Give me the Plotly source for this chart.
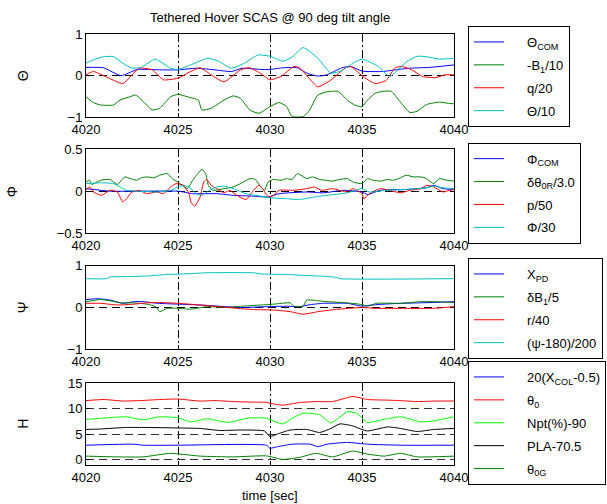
import plotly.graph_objects as go

# ---------------- Panel 1 : Theta ----------------
th_com_t = [4020, 4020.95, 4021.9, 4022.8, 4024, 4025, 4026, 4027, 4027.9, 4028.5, 4029.5, 4030, 4030.7, 4031.5,
            4032, 4032.6, 4033.1, 4033.9, 4034.4, 4035, 4036.1, 4036.8, 4037.6, 4038.7, 4040]
th_com_v = [0.20, 0.19, 0.00, 0.15, 0.14, 0.14, 0.18, 0.14, 0.10, 0.18, 0.15, 0.15, 0.19, 0.19,
            0.06, -0.01, 0.02, 0.19, 0.22, 0.11, 0.10, 0.14, 0.18, 0.20, 0.26]
b1_t = [4020, 4020.4, 4020.8, 4021.5, 4021.85, 4022.4, 4022.7, 4023.3, 4023.6, 4024.0, 4024.6, 4025, 4025.5,
        4026.1, 4026.3, 4026.8, 4027.5, 4028.0, 4028.4, 4028.9, 4029.4, 4030, 4030.5, 4030.9, 4031.2, 4031.8,
        4032.1, 4032.6, 4033.1, 4033.7, 4034.2, 4034.6, 4035, 4035.3, 4035.7, 4036.1, 4036.6, 4037.0, 4037.6,
        4038, 4038.5, 4039.2, 4039.7, 4040]
b1_v = [-0.51, -0.65, -0.71, -0.71, -0.59, -0.51, -0.47, -0.71, -0.83, -0.79, -0.51, -0.45, -0.51,
        -0.59, -0.83, -0.79, -0.59, -0.49, -0.55, -0.83, -0.91, -0.75, -0.65, -0.75, -0.99, -0.99,
        -0.87, -0.47, -0.39, -0.38, -0.59, -0.71, -0.75, -0.59, -0.43, -0.38, -0.38, -0.59, -0.89,
        -0.86, -0.70, -0.64, -0.67, -0.68]
q_t = [4020, 4020.4, 4021.2, 4022.0, 4022.9, 4023.6, 4024.2, 4025, 4025.6, 4026.2, 4026.8, 4027.5, 4028.4,
       4028.9, 4029.6, 4030, 4030.6, 4031.3, 4031.6, 4032.1, 4032.6, 4033.3, 4034.1, 4034.4, 4035, 4035.7,
       4036.3, 4036.8, 4037.2, 4037.7, 4038.3, 4039, 4039.5, 4040]
q_v = [0.02, 0.10, -0.05, -0.19, 0.18, 0.14, -0.10, -0.06, 0.08, 0.19, 0.02, -0.15, 0.14,
       0.19, 0.02, -0.10, -0.02, 0.22, 0.19, -0.05, -0.27, -0.11, 0.19, 0.22, 0.00, -0.19,
       -0.12, 0.19, 0.22, 0.14, -0.02, -0.05, 0.02, 0.02]
th_t = [4020, 4020.5, 4021, 4021.5, 4022, 4022.5, 4023, 4023.75, 4024.6, 4025, 4025.8, 4026.6, 4027.2, 4027.9,
        4028.6, 4029.35, 4030, 4030.7, 4031.2, 4031.8, 4032.6, 4033.3, 4033.9, 4034.5, 4035, 4035.9, 4036.5,
        4037.4, 4038, 4038.6, 4039.2, 4040]
th_v = [0.30, 0.40, 0.46, 0.46, 0.30, 0.18, 0.20, 0.40, 0.18, 0.15, 0.28, 0.42, 0.35, 0.18,
        0.30, 0.50, 0.47, 0.35, 0.45, 0.68, 0.42, 0.06, 0.12, 0.30, 0.40, 0.22, -0.02,
        0.33, 0.47, 0.45, 0.40, 0.42]

# ---------------- Panel 2 : Phi ----------------
ph_com_t = [4020, 4021.3, 4023.1, 4025, 4025.8, 4027.1, 4028, 4029.1, 4029.9, 4030.5, 4032, 4032.9, 4034, 4035,
            4035.3, 4036, 4037.4, 4038.5, 4038.9, 4039.4, 4040]
ph_com_v = [0.03, 0.00, 0.00, 0.00, -0.03, -0.03, -0.05, -0.06, -0.07, -0.03, -0.01, -0.02, 0.01, -0.01,
            -0.04, 0.01, 0.02, 0.04, 0.07, 0.03, 0.02]
d0r_t = [4020, 4020.2, 4020.3, 4020.8, 4021.3, 4021.7, 4022.1, 4022.4, 4022.75, 4023.0, 4023.3, 4023.7, 4024.0,
         4024.4, 4024.7, 4025.1, 4025.5, 4025.8, 4026.0, 4026.3, 4026.5, 4026.65, 4026.9, 4027.5, 4028.0,
         4028.4, 4028.9, 4029.2, 4029.5, 4029.7, 4029.9, 4030.2, 4030.6, 4030.9, 4031.2, 4031.5, 4032.0,
         4032.3, 4032.7, 4033.0, 4033.4, 4033.8, 4034.2, 4034.5, 4035.0, 4035.3, 4035.6, 4036.0, 4036.4,
         4036.7, 4037.0, 4037.4, 4037.8, 4038.2, 4038.5, 4038.9, 4039.2, 4039.6, 4040]
d0r_v = [0.11, 0.13, 0.08, 0.13, 0.14, 0.08, 0.17, 0.15, 0.13, 0.16, 0.17, 0.16, 0.19,
         0.21, 0.15, 0.09, 0.03, 0.13, 0.19, 0.26, 0.21, 0.07, 0.01, 0.03, 0.05,
         0.09, 0.15, 0.14, 0.05, 0.01, 0.11, 0.14, 0.13, 0.15, 0.14, 0.21, 0.15,
         0.17, 0.14, 0.13, 0.12, 0.14, 0.15, 0.11, 0.09, 0.15, 0.13, 0.12, 0.14,
         0.13, 0.15, 0.19, 0.17, 0.17, 0.15, 0.09, 0.15, 0.13, 0.12]
p_t = [4020, 4020.2, 4020.4, 4020.85, 4021.3, 4021.7, 4022.0, 4022.2, 4022.5, 4022.9, 4023.3, 4023.85, 4024.2,
       4024.6, 4024.9, 4025.3, 4025.6, 4025.7, 4025.9, 4026.2, 4026.4, 4026.55, 4026.8, 4027.1, 4027.5, 4027.8,
       4028.2, 4028.7, 4029.1, 4029.4, 4029.6, 4029.9, 4030.2, 4030.5, 4031.3, 4032.0, 4032.4, 4032.8, 4033.4,
       4034.2, 4034.5, 4035.0, 4035.1, 4035.4, 4036, 4036.5, 4037.1, 4037.6, 4038.2, 4038.5, 4038.9, 4039.4,
       4039.6, 4040]
p_v = [0.02, 0.05, -0.01, -0.05, 0.01, -0.01, -0.13, -0.09, -0.01, 0.01, -0.03, -0.01, -0.03,
       0.05, 0.09, 0.07, -0.03, -0.13, -0.18, -0.07, 0.11, 0.14, 0.07, 0.03, -0.02, 0.01,
       -0.05, -0.10, 0.01, 0.07, 0.03, -0.07, -0.05, 0.01, 0.01, 0.03, 0.05, 0.01, 0.03,
       -0.01, 0.03, -0.03, -0.09, -0.03, 0.03, 0.01, -0.02, 0.01, 0.03, 0.07, 0.05, -0.01,
       0.00, 0.02]
ph_t = [4020, 4020.8, 4021.5, 4021.85, 4022.2, 4022.75, 4024, 4024.6, 4025, 4025.3, 4025.7, 4026.0, 4026.3,
        4026.7, 4027.1, 4027.5, 4028, 4028.7, 4029.5, 4030, 4030.9, 4031.6, 4032.4, 4033.1, 4034.2, 4035.0,
        4035.4, 4036.3, 4037.4, 4038.5, 4038.9, 4039.4, 4040]
ph_v = [0.09, 0.10, 0.09, 0.05, 0.01, 0.00, -0.01, 0.01, 0.05, 0.07, 0.03, -0.03, -0.05,
        0.01, 0.05, 0.06, 0.03, -0.03, -0.06, -0.08, -0.09, -0.10, -0.07, -0.05, -0.02, 0.03,
        -0.01, 0.01, 0.02, 0.04, 0.06, 0.04, 0.03]

# ---------------- Panel 3 : Psi ----------------
xpd_t = [4020, 4020.6, 4021.3, 4022, 4022.6, 4023.1, 4023.9, 4025, 4026.2, 4027.3, 4028.4, 4029.8, 4030.9,
         4031.6, 4032.2, 4032.9, 4034.2, 4035, 4035.3, 4036.2, 4037.1, 4038, 4038.9, 4040]
xpd_v = [0.19, 0.21, 0.18, 0.10, 0.14, 0.14, 0.10, 0.08, 0.06, 0.03, 0.00, 0.02, 0.03,
         0.02, 0.07, 0.10, 0.10, 0.03, 0.05, 0.08, 0.10, 0.11, 0.12, 0.14]
db1_t = [4020, 4020.8, 4021.3, 4021.9, 4022.6, 4023.3, 4023.8, 4024.0, 4024.4, 4025, 4025.7, 4026.6, 4027.7,
         4028.4, 4029.5, 4030.2, 4031.1, 4031.3, 4031.8, 4032.0, 4032.6, 4033.1, 4034.2, 4035, 4035.3,
         4035.8, 4037.1, 4038.2, 4038.9, 4040]
db1_v = [0.14, 0.19, 0.16, 0.11, 0.11, 0.08, 0.02, -0.10, -0.02, -0.02, -0.04, 0.02, 0.00,
         0.03, 0.06, 0.08, 0.11, 0.03, 0.03, 0.18, 0.16, 0.14, 0.11, 0.07, 0.03,
         0.10, 0.10, 0.14, 0.14, 0.12]
r_t = [4020, 4020.8, 4021.7, 4022.6, 4023.3, 4024, 4025, 4026.2, 4027.7, 4029.1, 4030.2, 4031.1, 4031.8,
       4032.6, 4033.5, 4035, 4035.7, 4037.1, 4038.9, 4040]
r_v = [0.10, 0.10, 0.06, 0.08, 0.11, 0.12, 0.10, 0.06, 0.00, -0.05, -0.06, -0.10, -0.16,
       -0.10, -0.05, 0.00, -0.02, -0.02, -0.02, 0.02]
psi_t = [4020, 4021.1, 4021.3, 4022.5, 4023.5, 4024.4, 4025.7, 4026.5, 4029.1, 4029.6, 4031.0, 4031.7,
         4032.8, 4033.6, 4033.8, 4040]
psi_v = [0.69, 0.69, 0.73, 0.74, 0.76, 0.79, 0.81, 0.83, 0.83, 0.80, 0.79, 0.77,
         0.75, 0.72, 0.69, 0.69]

# ---------------- Panel 4 : H ----------------
xcol_t = [4020, 4022.6, 4023.1, 4025, 4029.8, 4030, 4030.4, 4031.2, 4032.2, 4032.6, 4033.1, 4034.2, 4035.3,
          4037.1, 4040]
xcol_v = [2.8, 3.0, 2.8, 2.8, 2.8, 2.2, 2.5, 3.0, 3.0, 2.5, 3.0, 3.35, 3.0, 2.8, 2.8]
th0_t = [4020, 4021, 4022, 4023, 4024, 4025, 4026.2, 4027, 4028, 4029, 4029.8, 4030, 4030.7, 4031.6, 4032.5,
         4033.4, 4034.5, 4035.3, 4036.2, 4037, 4038, 4039, 4040]
th0_v = [11.6, 11.8, 11.5, 11.6, 11.8, 11.9, 11.5, 11.6, 11.4, 11.3, 11.25, 11.05, 10.7, 11.2, 11.4,
         11.4, 12.4, 11.8, 11.7, 11.6, 11.4, 11.5, 11.5]
npt_t = [4020, 4020.8, 4022.2, 4023.1, 4024, 4025, 4025.7, 4026.6, 4027.7, 4028.9, 4029.8, 4030.3, 4030.7,
         4031.2, 4031.8, 4032.7, 4033.3, 4033.6, 4034.2, 4034.7, 4035.3, 4036.2, 4037.1, 4038.2, 4038.9, 4040]
npt_v = [7.9, 8.1, 8.4, 7.8, 8.4, 8.2, 7.4, 8.0, 7.3, 8.2, 8.1, 7.4, 7.0,
         8.1, 9.1, 8.8, 7.2, 7.8, 9.4, 9.1, 7.3, 7.9, 8.4, 7.4, 7.6, 8.4]
pla_t = [4020, 4020.8, 4022.2, 4023.1, 4025, 4026.2, 4027.3, 4028.4, 4029.7, 4030, 4030.4, 4031.1, 4032.0,
         4032.7, 4033.3, 4033.8, 4034.5, 4035, 4035.3, 4036.4, 4037.1, 4038, 4038.9, 4040]
pla_v = [5.9, 6.0, 6.3, 6.3, 6.2, 6.1, 5.7, 5.8, 5.6, 4.5, 5.0, 5.8, 5.9,
         5.3, 6.1, 7.0, 6.6, 5.9, 5.6, 6.4, 6.1, 5.5, 5.9, 6.1]
th0g_t = [4020, 4021.7, 4023.1, 4024.6, 4026.2, 4028, 4029.8, 4030.7, 4031.6, 4032.5, 4033.4, 4034.5, 4035.3,
          4036.2, 4037.1, 4038, 4040]
th0g_v = [0.65, 0.5, 0.5, 1.2, 0.65, 0.5, 0.7, 0.0, 0.4, 1.2, 0.5, 1.65, 1.05, 0.65, 1.2, 0.5, 0.65]

x_ticks = [4020, 4025, 4030, 4035, 4040]
y_ticks = [[-1, 0, 1], [-0.5, 0, 0.5], [-1, 0, 1], [0, 5, 10, 15]]
y_ranges = [[-1, 1], [-0.5, 0.5], [-1, 1], [-1.1, 15]]
y_titles = ["Θ", "Φ", "Ψ", "H"]

BLUE, GREEN, RED, CYAN, LIME, BLACK = "#0000FF", "#008000", "#FF0000", "#00BFBF", "#00FF00", "#000000"

panels = [
    [(th_com_t, th_com_v, "Θ<sub>COM</sub>", BLUE), (b1_t, b1_v, "-B<sub>1</sub>/10", GREEN),
     (q_t, q_v, "q/20", RED), (th_t, th_v, "Θ/10", CYAN)],
    [(ph_com_t, ph_com_v, "Φ<sub>COM</sub>", BLUE), (d0r_t, d0r_v, "δθ<sub>0R</sub>/3.0", GREEN),
     (p_t, p_v, "p/50", RED), (ph_t, ph_v, "Φ/30", CYAN)],
    [(xpd_t, xpd_v, "X<sub>PD</sub>", BLUE), (db1_t, db1_v, "δB<sub>1</sub>/5", GREEN),
     (r_t, r_v, "r/40", RED), (psi_t, psi_v, "(ψ-180)/200", CYAN)],
    [(xcol_t, xcol_v, "20(X<sub>COL</sub>-0.5)", BLUE), (th0_t, th0_v, "θ<sub>0</sub>", RED),
     (npt_t, npt_v, "Npt(%)-90", LIME), (pla_t, pla_v, "PLA-70.5", BLACK),
     (th0g_t, th0g_v, "θ<sub>0G</sub>", GREEN)],
]

W, H = 607, 504
x0, x1 = 86, 454
ybounds = [(34.3, 117), (149.3, 233), (265.7, 349.3), (383.3, 465)]
legend_tops = [26, 142.7, 258, 361]
ytitle_x = [22.7, 12, 22.7, 22.7]
FONT = "Liberation Sans, Arial, sans-serif"
PAD = "\u00a0" * 5

fig = go.Figure()
legend_names = ["legend", "legend2", "legend3", "legend4"]
for i, series in enumerate(panels):
    xa = "x" if i == 0 else f"x{i+1}"
    ya = "y" if i == 0 else f"y{i+1}"
    for j, (t, v, name, col) in enumerate(series):
        fig.add_trace(go.Scatter(x=t, y=v, mode="lines", name=PAD + name,
                                 line=dict(color=col, width=1, shape="spline", smoothing=0.5),
                                 xaxis=xa, yaxis=ya, legend=legend_names[i],
                                 legendgroup=f"g{i}_{j}"))

layout = dict(width=W, height=H, margin=dict(l=0, r=0, t=0, b=0, autoexpand=False),
              paper_bgcolor="white", plot_bgcolor="white", showlegend=True,
              font=dict(family=FONT, size=13, color="black"))
for i in range(4):
    sx = "xaxis" if i == 0 else f"xaxis{i+1}"
    sy = "yaxis" if i == 0 else f"yaxis{i+1}"
    ya = "y" if i == 0 else f"y{i+1}"
    xa = "x" if i == 0 else f"x{i+1}"
    top, bot = ybounds[i]
    layout[sx] = dict(domain=[x0 / W, x1 / W], range=[4020, 4040], anchor=ya, automargin=False,
                      tickvals=x_ticks, ticks="inside", ticklen=4, tickcolor="black",
                      showline=True, mirror=True, linecolor="black", linewidth=1,
                      showgrid=True, gridcolor="black", gridwidth=1, griddash="8px,3px,2px,3px",
                      zeroline=False, tickfont=dict(size=13))
    layout[sy] = dict(domain=[1 - bot / H, 1 - top / H], range=y_ranges[i], anchor=xa, automargin=False,
                      tickvals=y_ticks[i], ticks="inside", ticklen=4, tickcolor="black",
                      showline=True, mirror=True, linecolor="black", linewidth=1,
                      showgrid=True, gridcolor="#333333" if i == 3 else "black", gridwidth=1,
                      griddash="8px,5px", zeroline=False, tickfont=dict(size=13))
    layout[legend_names[i]] = dict(x=468 / W, y=1 - legend_tops[i] / H, xanchor="left", yanchor="top",
                                   xref="paper", yref="paper",
                                   bgcolor="white", bordercolor="black", borderwidth=1,
                                   font=dict(size=13), tracegroupgap=3, traceorder="grouped")
fig.update_layout(**layout)

for i in range(4):
    top, bot = ybounds[i]
    fig.add_annotation(text=y_titles[i], xref="paper", yref="paper", x=ytitle_x[i] / W,
                       y=1 - (top + bot) / 2 / H, textangle=-90, showarrow=False,
                       font=dict(size=14), xanchor="center", yanchor="middle")
fig.add_annotation(text="time [sec]", xref="paper", yref="paper", x=270 / W, y=1 - 495 / H,
                   showarrow=False, font=dict(size=13), xanchor="center", yanchor="middle")
fig.add_annotation(text="Tethered Hover SCAS @ 90 deg tilt angle", xref="paper", yref="paper",
                   x=270 / W, y=1 - 18 / H, showarrow=False, font=dict(size=13),
                   xanchor="center", yanchor="middle")
fig.write_html("out.html")
